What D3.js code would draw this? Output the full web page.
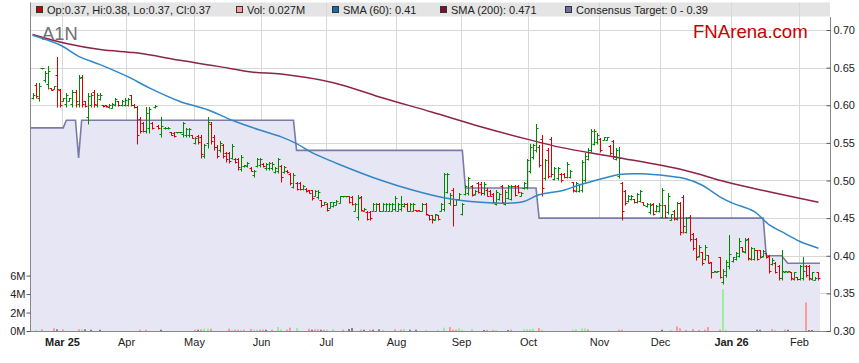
<!DOCTYPE html>
<html><head><meta charset="utf-8">
<script src="https://cdn.jsdelivr.net/npm/d3@7"></script>
<style>body{margin:0;background:#fff;}svg{display:block;font-family:"Liberation Sans",Arial,sans-serif;}</style>
</head><body><svg id="c" width="859" height="363"></svg>
<script>
// ---- DATA (one bar per weekday, 17 Feb 2025 .. 10 Feb 2026) ----
const opens=[
.609,.627,.610,.649,.633,.628,.623,.622,.640,.620,
.605,.602,.606,.602,.618,.602,.638,.605,.585,.600,.618,.600,.608,.600,.600,.598,.597,.600,.605,.600,.600,
.600,.613,.600,.598,.582,.576,.566,.570,.577,.598,.573,.562,.570,.570,.565,.563,.564,.564,.562,.560,.560,.560,
.550,.559,.558,.532,.550,.575,.558,.545,.540,.547,.537,.536,.530,.529,.528,.515,.519,.519,.517,.507,.519,.520,
.522,.516,.516,.516,.511,.512,.519,.511,.513,.509,.492,.497,.497,.489,.489,.487,.487,.480,.478,.474,.468,
.469,.464,.466,.468,.470,.479,.479,.479,.478,.460,.452,.478,.459,.458,.458,.459,.459,.469,.459,.459,.460,.459,.462,
.460,.462,.466,.469,.459,.459,.461,.461,.460,.469,.454,.454,.448,.454,.459,.462,.485,.470,.488,.468,.475,
.455,.482,.483,.493,.482,.497,.496,.483,.488,.486,.482,.469,.475,.493,.469,.477,.476,.493,.493,.479,.490,.491,
.512,.531,.540,.545,.555,.503,.540,.555,.502,.503,.509,.509,.505,.504,.498,.486,.486,.487,.500,.529,.541,.549,.551,
.555,.554,.554,.546,.552,.529,.506,.497,.486,.473,.475,.476,.471,.473,.472,.466,.458,.469,.460,.460,
.452,.467,.458,.448,.460,.449,.470,.478,.432,.452,.429,.422,.400,.405,.396,.401,.392,.379,.379,.398,.365,.375,.386,
.393,.396,.400,.412,.405,.422,.396,.396,.407,.407,.400,.403,.400,.389,.391,.387,.370,.379,.379,.378,.369,.372,
.369,.370,.387,.386,.369,.368,.378];
const highs=[
.616,.629,.629,.650,.645,.652,.623,.625,.664,.622,
.609,.616,.610,.620,.620,.640,.640,.605,.616,.616,.620,.616,.616,.600,.600,.601,.603,.610,.605,.607,.609,
.609,.614,.601,.599,.585,.578,.598,.598,.578,.600,.574,.585,.571,.571,.565,.564,.565,.565,.578,.570,.570,.560,
.558,.560,.560,.549,.585,.578,.560,.547,.552,.549,.538,.538,.549,.530,.530,.534,.521,.524,.518,.514,.530,.530,
.523,.523,.524,.524,.518,.530,.521,.519,.514,.510,.510,.498,.498,.494,.490,.487,.487,.487,.487,.474,.472,
.470,.472,.472,.474,.479,.479,.479,.479,.479,.470,.481,.479,.463,.459,.459,.470,.470,.470,.470,.470,.470,.470,.479,
.470,.479,.470,.470,.470,.470,.461,.461,.470,.470,.454,.454,.456,.454,.470,.510,.510,.483,.490,.476,.483,
.470,.494,.505,.494,.487,.498,.498,.498,.490,.487,.483,.487,.483,.494,.487,.494,.494,.494,.494,.485,.498,.529,
.549,.549,.575,.547,.560,.529,.543,.558,.518,.518,.510,.510,.525,.514,.498,.498,.496,.527,.536,.543,.569,.569,.563,
.556,.558,.558,.547,.554,.543,.545,.498,.487,.481,.481,.476,.483,.488,.472,.470,.470,.470,.467,.470,
.490,.467,.483,.456,.461,.472,.472,.481,.452,.454,.430,.423,.414,.405,.414,.401,.392,.380,.380,.399,.383,.394,.428,
.399,.405,.423,.412,.423,.423,.412,.410,.408,.408,.408,.403,.401,.397,.392,.388,.408,.380,.380,.379,.379,.372,
.388,.398,.388,.388,.379,.372,.379];
const lows=[
.608,.609,.605,.648,.631,.622,.620,.621,.598,.598,
.605,.598,.605,.598,.598,.598,.598,.598,.575,.598,.598,.598,.607,.598,.598,.597,.596,.599,.599,.599,.599,
.599,.599,.597,.549,.563,.565,.563,.563,.569,.597,.569,.558,.569,.569,.560,.558,.563,.563,.558,.558,.558,.556,
.549,.549,.530,.530,.543,.549,.541,.530,.538,.530,.525,.523,.528,.523,.514,.512,.518,.518,.512,.505,.518,.518,
.518,.514,.514,.514,.510,.510,.498,.510,.510,.494,.490,.487,.487,.487,.485,.483,.474,.479,.476,.465,.467,
.459,.463,.465,.467,.470,.478,.478,.470,.467,.459,.448,.459,.459,.448,.448,.459,.459,.459,.459,.459,.459,.459,.459,
.459,.459,.465,.459,.459,.459,.459,.459,.459,.454,.448,.443,.448,.448,.459,.459,.483,.467,.439,.467,.474,
.454,.481,.481,.479,.481,.483,.481,.481,.479,.479,.470,.467,.474,.470,.467,.476,.474,.479,.483,.479,.489,.489,
.510,.529,.538,.518,.479,.501,.503,.505,.501,.501,.498,.503,.503,.503,.485,.485,.485,.485,.498,.527,.538,.547,.549,
.538,.554,.554,.534,.529,.527,.503,.448,.467,.472,.474,.470,.470,.472,.467,.465,.456,.454,.458,.458,
.450,.450,.456,.448,.448,.448,.428,.430,.430,.419,.408,.394,.399,.388,.394,.390,.370,.379,.379,.370,.363,.372,.383,
.392,.394,.399,.405,.403,.394,.394,.394,.394,.397,.399,.397,.377,.388,.377,.368,.368,.379,.379,.368,.368,.368,
.368,.368,.372,.368,.368,.368,.368];
const closes=[
.614,.612,.626,.649,.643,.645,.620,.625,.622,.600,
.609,.614,.609,.618,.605,.636,.602,.599,.612,.614,.601,.614,.614,.599,.599,.600,.602,.608,.600,.606,.607,
.608,.600,.598,.560,.566,.566,.590,.595,.570,.599,.570,.572,.570,.570,.561,.559,.564,.564,.576,.569,.569,.557,
.556,.551,.535,.547,.578,.552,.545,.533,.550,.533,.528,.526,.546,.524,.518,.531,.520,.523,.513,.512,.528,.528,
.519,.522,.523,.522,.517,.528,.505,.518,.511,.497,.507,.489,.489,.493,.486,.484,.477,.486,.485,.467,.471,
.461,.471,.471,.473,.479,.479,.479,.471,.469,.469,.477,.461,.462,.449,.450,.469,.469,.460,.469,.469,.469,.469,.477,
.469,.469,.469,.460,.469,.469,.459,.459,.469,.455,.449,.449,.455,.449,.469,.508,.508,.481,.468,.475,.482,
.469,.493,.503,.481,.486,.485,.483,.496,.480,.480,.472,.485,.482,.472,.485,.493,.493,.481,.485,.484,.497,.527,
.545,.547,.570,.520,.490,.527,.506,.508,.516,.516,.500,.504,.522,.513,.487,.497,.495,.524,.533,.541,.566,.566,.560,
.541,.558,.558,.536,.532,.541,.530,.460,.470,.479,.480,.471,.482,.486,.468,.469,.468,.456,.466,.468,
.487,.452,.480,.455,.450,.470,.432,.440,.450,.422,.410,.398,.412,.390,.412,.391,.379,.380,.380,.372,.380,.392,.402,
.398,.404,.420,.406,.421,.397,.410,.408,.396,.398,.406,.398,.380,.395,.379,.370,.380,.380,.380,.370,.378,.369,
.386,.380,.374,.370,.378,.371,.370];

const sma60Idx=[0,9,15,22,31,38,48,57,65,74,81,86,91,102,113,124,134,146,156,160,165,173,178,186,191,198,207,213,218,224,228,235,240,244,250,256];
const sma60Val=[.693,.680,.665,.654,.638,.623,.605,.594,.580,.567,.558,.549,.537,.518,.501,.487,.477,.471,.470,.472,.481,.487,.494,.503,.508,.509,.506,.502,.494,.478,.470,.459,.441,.432,.419,.410];
const sma200Idx=[0,11,22,33,38,49,60,72,81,98,113,130,146,162,172,190,212,226,241,256];
const sma200Val=[.694,.682,.674,.670,.667,.659,.652,.644,.6415,.630,.611,.591,.5715,.554,.544,.531,.514,.498,.484,.471];
const targetIdx=[0,10,11,14,15,16,85,86,140,141,164,165,238,239,244,246,256];
const targetVal=[.57,.57,.58,.58,.53,.58,.58,.54,.54,.49,.49,.45,.45,.40,.40,.39,.39];

const volIdx=[1,3,7,8,10,15,16,17,19,22,35,37,42,53,54,55,56,57,58,64,65,66,67,68,69,71,72,73,74,75,76,78,80,81,83,84,86,90,91,92,93,94,95,96,98,101,103,104,107,108,110,111,113,114,118,120,121,123,125,128,132,134,136,137,138,139,140,143,147,148,150,151,155,156,160,161,162,163,165,166,176,177,179,180,181,191,192,205,208,210,211,213,215,217,219,220,224,225,226,236,237,241,242,245,246,252,253,254];
const volM=[.11,.18,.29,.18,.18,.18,.18,.18,.14,.14,.14,.14,.14,.14,.14,.18,.25,.25,.25,.25,.11,.14,.14,.14,.14,.22,.14,.14,.14,.14,.14,.14,.43,.18,.14,.36,.32,.25,.14,.18,.18,.14,.14,.14,.22,.14,.22,.32,.14,.14,.14,.14,.18,.14,.18,.14,.22,.14,.14,.11,.11,.36,.43,.14,.14,.29,.14,.22,.11,.11,.11,.11,.11,.14,.18,.18,.18,.25,.32,.14,.14,.18,.29,.29,.18,.14,.14,.14,.11,.50,.29,.11,.22,.11,.14,.43,.14,4.5,.14,.14,.14,.22,.11,.14,.14,3.1,.11,.11];
const volKind=["u","d","d","n","d","d","u","n","n","n","d","d","n","d","n","d","u","u","d","d","u","d","d","u","d","d","u","u","d","d","n","d","u","u","d","d","u","d","n","d","d","n","d","u","u","d","n","n","d","n","d","n","n","u","d","d","u","n","n","u","u","u","d","d","d","u","u","u","n","d","d","u","n","d","u","u","u","u","d","u","u","u","u","u","d","d","d","n","u","d","d","d","d","d","d","d","d","u","u","n","n","d","u","d","n","d","n","n"];

const monthStart=[10,31,53,75,96,119,140,162,185,205,228,250];
const monthLabels=["Mar 25","Apr","May","Jun","Jul","Aug","Sep","Oct","Nov","Dec","Jan 26","Feb"];
const yearLabels=["Mar 25","Jan 26"];
const priceTicks=[0.30,0.35,0.40,0.45,0.50,0.55,0.60,0.65,0.70];
const volTicks=[0,2,4,6];
const legendLabels=["Op:0.37, Hi:0.38, Lo:0.37, Cl:0.37","Vol: 0.027M","SMA (60): 0.41","SMA (200): 0.471","Consensus Target: 0 - 0.39"];
const ticker="A1N", brand="FNArena.com";

// ---- LAYOUT / STYLE ----
const L=31, R=820, AX=830, T=17, B=331;
const legendX=[36,236,332,440,565];
const legendColors=["#cc0000","#ff9a9a","#1a6aa8","#7a1030","#6e6ea0"];
const UP="#008800", DN="#dd0000";

const svg=d3.select("#c");
const x=d3.scaleLinear().domain([-0.5,opens.length-0.5]).range([L,R]);
const y=d3.scaleLinear().domain([0.30,0.70]).range([B,30]);
const yv=d3.scaleLinear().domain([0,34]).range([B,T]);

// legend bar
svg.append("rect").attr("x",30).attr("y",2.5).attr("width",AX-30).attr("height",14).attr("fill","#e4e4e4");

// gridlines
const grid=svg.append("g").attr("stroke","#d8d8d8").attr("stroke-width",1);
priceTicks.filter(v=>v>0.3).forEach(v=>{
  const yy=Math.round(y(v))+0.5;
  grid.append("line").attr("x1",L).attr("x2",AX).attr("y1",yy).attr("y2",yy);
});
monthStart.forEach(i=>{
  const xx=Math.round(x(i-0.5))+0.5;
  grid.append("line").attr("x1",xx).attr("x2",xx).attr("y1",2.5).attr("y2",B);
});

// consensus target area + line
const tPts=targetIdx.map((i,k)=>[k===0?x.range()[0]:(k===targetIdx.length-1?x.range()[1]:x(i)), y(targetVal[k])]);
svg.append("path").datum(tPts)
  .attr("d",d3.area().x(d=>d[0]).y0(B).y1(d=>d[1]))
  .attr("fill","#e6e6f5");
svg.append("path").datum(tPts)
  .attr("d",d3.line().x(d=>d[0]).y(d=>d[1]))
  .attr("fill","none").attr("stroke","#7b7baa").attr("stroke-width",1.6);

// volume
const vcol={u:"#99ee99",d:"#ff9a9a",n:"#808080"};
svg.append("g").selectAll("rect").data(volIdx).join("rect")
  .attr("x",(d)=>Math.round(x(d))-1)
  .attr("width",2)
  .attr("y",(d,k)=>yv(volM[k]))
  .attr("height",(d,k)=>B-yv(volM[k]))
  .attr("fill",(d,k)=>vcol[volKind[k]]);

// OHLC bars
const bars=svg.append("g").attr("stroke-width",1).attr("fill","none");
opens.forEach((o,i)=>{
  const xx=Math.round(x(i))+0.5;
  const yh=Math.round(y(highs[i])), yl=Math.max(Math.round(y(lows[i])),yh+1);
  const yo=Math.round(y(o))+0.5, yc=Math.round(y(closes[i]))+0.5;
  bars.append("path")
    .attr("d",`M${xx},${yh}V${yl+0.5}M${xx-2},${yo}H${xx}M${xx},${yc}H${xx+2}`)
    .attr("stroke",closes[i]>=o?UP:DN);
});

// moving averages
const sl=d3.line().curve(d3.curveCatmullRom.alpha(0.5));
svg.append("path").datum(sma200Idx.map((i,k)=>[x(i),y(sma200Val[k])]))
  .attr("d",sl).attr("fill","none").attr("stroke","#8e2248").attr("stroke-width",1.5);
svg.append("path").datum(sma60Idx.map((i,k)=>[x(i),y(sma60Val[k])]))
  .attr("d",sl).attr("fill","none").attr("stroke","#2f86c8").attr("stroke-width",1.5);

// axes lines
const axl=svg.append("g").attr("stroke","#888").attr("stroke-width",1);
axl.append("line").attr("x1",30.5).attr("x2",30.5).attr("y1",2.5).attr("y2",B+0.5);
axl.append("line").attr("x1",30).attr("x2",AX+1).attr("y1",B+0.5).attr("y2",B+0.5);
axl.append("line").attr("x1",AX+0.5).attr("x2",AX+0.5).attr("y1",T).attr("y2",B+0.5);

// right price axis
const ra=svg.append("g").attr("transform",`translate(${AX+0.5},0)`)
  .call(d3.axisRight(y).tickValues(priceTicks).tickFormat(d3.format(".2f")).tickSizeInner(-4).tickSizeOuter(0).tickPadding(3));
ra.select(".domain").remove();
ra.selectAll("line").attr("stroke","#555");
ra.selectAll("text").attr("font-size",11).attr("fill","#222").attr("font-family","Liberation Sans, Arial, sans-serif");

// left volume axis
const la=svg.append("g").attr("transform","translate(30.5,0)")
  .call(d3.axisLeft(yv).tickValues(volTicks).tickFormat(d=>d+"M").tickSizeInner(4).tickSizeOuter(0).tickPadding(1));
la.select(".domain").remove();
la.selectAll("line").attr("stroke","#555");
la.selectAll("text").attr("font-size",11).attr("fill","#222").attr("font-family","Liberation Sans, Arial, sans-serif");

// month labels
svg.append("g").selectAll("text").data(monthStart).join("text")
  .attr("x",d=>Math.round(x(d-0.5))+0.5).attr("y",346)
  .attr("text-anchor","middle").attr("font-size",11).attr("fill","#222")
  .attr("font-weight",(d,k)=>yearLabels.includes(monthLabels[k])?"bold":"normal")
  .text((d,k)=>monthLabels[k]);

// legend
const lg=svg.append("g");
legendLabels.forEach((t,k)=>{
  lg.append("rect").attr("x",legendX[k]+0.5).attr("y",6.5).attr("width",6).attr("height",6)
    .attr("fill",legendColors[k]).attr("stroke","#333").attr("stroke-width",1);
  lg.append("text").attr("x",legendX[k]+11).attr("y",14).attr("font-size",11).attr("fill","#222").text(t);
});

// titles
svg.append("text").attr("x",42).attr("y",39.5).attr("font-size",18.4).attr("fill","#707070").text(ticker);
svg.append("text").attr("x",693).attr("y",37.5).attr("font-size",18.6).attr("fill","#cc0000").text(brand);
</script></body></html>
